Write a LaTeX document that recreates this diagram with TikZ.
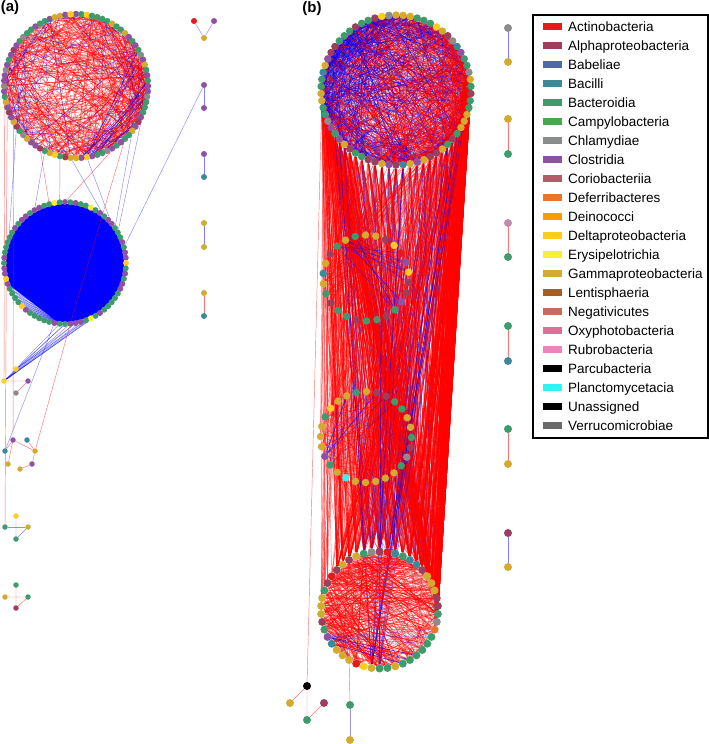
\documentclass[tikz,border=0pt]{standalone}
\usepackage{fontspec}
\setmainfont{Liberation Sans}
\pgfdeclarelayer{bg}
\pgfsetlayers{bg,main}
\definecolor{act}{HTML}{E41A1C}
\definecolor{alp}{HTML}{9B3F5C}
\definecolor{bab}{HTML}{4E6AA8}
\definecolor{bac}{HTML}{3A8A9A}
\definecolor{bct}{HTML}{3E9B6C}
\definecolor{cam}{HTML}{4DA54F}
\definecolor{chl}{HTML}{8A8D8C}
\definecolor{clo}{HTML}{8E52A2}
\definecolor{cor}{HTML}{B8596A}
\definecolor{def}{HTML}{E8752B}
\definecolor{dei}{HTML}{FF9900}
\definecolor{del}{HTML}{FFCC1F}
\definecolor{ery}{HTML}{F7F031}
\definecolor{gam}{HTML}{D4AA2F}
\definecolor{len}{HTML}{A65E22}
\definecolor{ngv}{HTML}{C46E5A}
\definecolor{oxy}{HTML}{DE6F97}
\definecolor{rub}{HTML}{E886BE}
\definecolor{par}{HTML}{000000}
\definecolor{pla}{HTML}{33F2F2}
\definecolor{una}{HTML}{000000}
\definecolor{ver}{HTML}{6B6B6B}
\definecolor{mve}{HTML}{C48AAD}
\tikzset{
  vtx/.style={circle,inner sep=0pt,minimum size=#1,draw=none},
  vtx/.default=7.5pt,
  redge/.style={red,line width=.45pt,opacity=.55},
  bedge/.style={blue,line width=.4pt,opacity=.5},
  tag/.style={font=\bfseries\fontsize{15}{18}\selectfont,inner sep=0pt},
  lgd/.style={font=\fontsize{13.5}{16}\selectfont,anchor=base west,inner sep=0pt},
}
\pgfmathdeclarerandomlist{palA}{{bct}{bct}{bct}{bct}{bct}{bct}{bct}{clo}{clo}{clo}{clo}{clo}{clo}{clo}{gam}{gam}{gam}{alp}{chl}{del}}
\pgfmathdeclarerandomlist{palB}{{bct}{bct}{bct}{bct}{bct}{bct}{bct}{bct}{bct}{clo}{clo}{clo}{clo}{clo}{clo}{clo}{clo}{ery}{del}{gam}}
\pgfmathdeclarerandomlist{palC}{{bct}{bct}{bct}{bct}{bct}{bct}{bct}{gam}{gam}{gam}{gam}{gam}{alp}{alp}{alp}{alp}{clo}{del}{chl}{bac}}
\newcommand\ring[7]{\foreach \cl [count=\i] in {#7}
  \node[vtx=#6,fill=\cl] (#1-\i) at ([shift={({#5+(\i-1)/#4*360}:#3)}]#2) {};}
\newcommand\rring[6]{\foreach \i in {1,...,#4}{\pgfmathrandomitem{\cl}{#6}
  \node[vtx=#5,fill=\cl] (#1-\i) at ([shift={({-90+(\i-1)/#4*360}:#3)}]#2) {};}}
\newcommand\links[8]{\foreach \e in {1,...,#1}{\pgfmathrandominteger{\p}{#4}{#5}\pgfmathrandominteger{\q}{#7}{#8}
  \ifnum\p=\q\else\draw[#2] (#3-\p) -- (#6-\q);\fi}}
\begin{document}
\begin{tikzpicture}[x=1pt,y=-1pt]
\useasboundingbox (0,0) rectangle (709,744);
\pgfmathsetseed{11}
\node[tag] (ta) at (10,8) {(a)};
\node[tag] (tb) at (312,9) {(b)};
\rring{a1}{76,86}{72}{84}{6.5pt}{palA}
\rring{a2}{65,263}{61}{72}{6pt}{palB}
\rring{b1}{396,90}{75}{66}{7.5pt}{palC}
\ring{b2}{366,278}{43}{26}{227.7}{7.5pt}{bct,gam,bct,gam,gam,alp,del,act,clo,del,alp,alp,clo,bct,alp,bct,bct,alp,bct,bct,alp,bct,gam,bac,gam,alp}
\ring{b3}{366,437}{45.5}{28}{232}{7.5pt}{gam,gam,bct,gam,alp,alp,bct,bct,gam,gam,bct,alp,chl,bct,gam,gam,gam,gam,gam,pla,gam,bct,clo,gam,gam,gam,bct,del}
\ring{b4}{379.5,610}{58.5}{46}{90}{8pt}{bct,gam,del,act,gam,gam,gam,bac,clo,bct,alp,gam,gam,gam,bct,alp,act,alp,gam,alp,gam,bct,chl,alp,act,bac,bct,bac,bac,alp,gam,gam,gam,alp,alp,bct,chl,def,bct,bct,bct,bct,bct,bct,gam,bct}
\node[vtx=6pt,fill=act] (s0r) at (194,21) {};
\node[vtx=6pt,fill=clo] (s0p) at (214,21) {};
\node[vtx=6pt,fill=gam] (s0g) at (204,38) {};
\node[vtx=6pt,fill=clo] (s1a) at (204,85) {};
\node[vtx=6pt,fill=clo] (s1b) at (204,108) {};
\node[vtx=6pt,fill=clo] (s2a) at (204,154) {};
\node[vtx=6pt,fill=bac] (s2b) at (204,177) {};
\node[vtx=6pt,fill=gam] (s3a) at (204,223) {};
\node[vtx=6pt,fill=gam] (s3b) at (204,247) {};
\node[vtx=6pt,fill=gam] (s4a) at (204,293) {};
\node[vtx=6pt,fill=bac] (s4b) at (204,316) {};
\node[vtx=5.5pt,fill=del] (y1) at (16,369) {};
\node[vtx=5.5pt,fill=del] (y2) at (4,381) {};
\node[vtx=5.5pt,fill=clo] (p1) at (28,381) {};
\node[vtx=5.5pt,fill=chl] (g1) at (16,393) {};
\node[vtx=5.5pt,fill=clo] (p2) at (13,440) {};
\node[vtx=5.5pt,fill=bac] (t1) at (27,440) {};
\node[vtx=5.5pt,fill=bac] (t2) at (5,451) {};
\node[vtx=5.5pt,fill=gam] (o1) at (35,451) {};
\node[vtx=5.5pt,fill=gam] (o2) at (8,464) {};
\node[vtx=5.5pt,fill=clo] (p3) at (32,464) {};
\node[vtx=5.5pt,fill=gam] (o3) at (20,469) {};
\node[vtx=5.5pt,fill=del] (y3) at (16,516) {};
\node[vtx=5.5pt,fill=bct] (c1) at (5,527) {};
\node[vtx=5.5pt,fill=gam] (o4) at (28,527) {};
\node[vtx=5.5pt,fill=bct] (c2) at (16,539) {};
\node[vtx=5.5pt,fill=bct] (c3) at (16,585) {};
\node[vtx=5.5pt,fill=gam] (o5) at (5,597) {};
\node[vtx=5.5pt,fill=bct] (c4) at (28,597) {};
\node[vtx=5.5pt,fill=alp] (m1) at (16,608) {};
\node[vtx=8pt,fill=par] (pbk) at (307,686) {};
\node[vtx=8pt,fill=gam] (pgo) at (290,703) {};
\node[vtx=8pt,fill=alp] (pma) at (324,703) {};
\node[vtx=8pt,fill=bct] (pgr) at (307,720) {};
\node[vtx=8pt,fill=bct] (qgr) at (350,705) {};
\node[vtx=8pt,fill=gam] (qgo) at (350,740) {};
\node[vtx=8pt,fill=chl] (r1a) at (508,28) {};
\node[vtx=8pt,fill=gam] (r1b) at (508,62) {};
\node[vtx=8pt,fill=gam] (r2a) at (508,119) {};
\node[vtx=8pt,fill=bct] (r2b) at (508,154) {};
\node[vtx=8pt,fill=mve] (r3a) at (508,223) {};
\node[vtx=8pt,fill=bct] (r3b) at (508,257) {};
\node[vtx=8pt,fill=bct] (r4a) at (508,326) {};
\node[vtx=8pt,fill=bac] (r4b) at (508,361) {};
\node[vtx=8pt,fill=bct] (r5a) at (508,429) {};
\node[vtx=8pt,fill=gam] (r5b) at (508,464) {};
\node[vtx=8pt,fill=alp] (r6a) at (508,533) {};
\node[vtx=8pt,fill=gam] (r6b) at (508,567) {};
\begin{pgfonlayer}{bg}
\fill[blue] (65,263) circle[radius=59];
\fill[blue!12] (a2-38.center) \foreach \i in {41,...,51}{ -- (a2-\i.center)} -- cycle;
\foreach \i in {40,...,53} \draw[bedge] (a2-38) -- (a2-\i);
\foreach \i in {44,...,52} \draw[bedge] (a2-36) -- (a2-\i);
\links{340}{redge}{a1}{1}{84}{a1}{1}{84}
\links{110}{redge}{a1}{16}{32}{a1}{1}{84}
\links{45}{bedge}{a1}{1}{84}{a1}{1}{84}
\links{15}{bedge}{a1}{38}{42}{a1}{15}{30}
\draw[redge] (a1-46) -- (a2-72);
\draw[redge] (a1-35) -- (a2-1);
\draw[redge] (a1-50) -- (a2-70);
\draw[redge] (a2-36) -- (a1-33);
\draw[bedge] (a1-49) -- (a2-67);
\draw[bedge] (a1-44) -- (a2-9);
\draw[bedge] (a1-41) -- (a2-11);
\draw[bedge] (a1-27) -- (a2-13);
\draw[bedge] (a1-31) -- (a2-12);
\draw[bedge] (a1-56) -- (a2-52);
\draw[bedge] (s1a) -- (a2-16);
\draw[redge] (a1-62) -- (y2);
\draw[redge] (a1-57) -- (p2);
\draw[redge] (a1-60) -- (c1);
\foreach \i in {30,...,38} \draw[bedge] (a2-\i) -- (y2);
\foreach \i in {33,35,37} \draw[bedge] (a2-\i) -- (y1);
\draw[bedge] (a2-39) -- (t2);
\draw[redge] (a2-36) -- (o1);
\draw[bedge] (s0r) -- (s0g) -- (s0p);
\draw[bedge] (s1a) -- (s1b);
\draw[bedge] (s2a) -- (s2b);
\draw[bedge] (s3a) -- (s3b);
\draw[redge] (s4a) -- (s4b);
\draw[redge] (y2) -- (p1) -- (g1);
\draw[redge] (p2) -- (o1) -- (t1);
\draw[redge] (o1) -- (p3) -- (o3);
\draw[redge] (t2) -- (p2) -- (o2);
\draw[redge] (c1) -- (o4);
\draw[bedge] (y3) -- (c2) -- (o4);
\draw[redge] (o5) -- (c4) -- (m1) -- (c3);
\links{550}{redge}{b1}{1}{66}{b1}{1}{66}
\links{200}{bedge}{b1}{1}{66}{b1}{1}{66}
\links{220}{bedge}{b1}{48}{66}{b1}{1}{66}
\links{220}{redge}{b1}{8}{30}{b1}{1}{66}
\links{160}{bedge}{b1}{26}{44}{b4}{22}{32}
\links{650}{redge}{b1}{18}{50}{b4}{18}{36}
\links{420}{redge}{b1}{14}{26}{b4}{28}{38}
\links{40}{redge}{b1}{40}{50}{b4}{12}{22}
\links{40}{bedge}{b1}{22}{44}{b4}{1}{2}
\links{60}{redge}{b1}{17}{51}{b2}{1}{26}
\links{60}{redge}{b1}{17}{51}{b3}{1}{28}
\links{30}{redge}{b2}{1}{26}{b4}{16}{36}
\links{30}{redge}{b3}{1}{28}{b4}{16}{36}
\links{30}{redge}{b2}{19}{26}{b2}{5}{15}
\links{12}{bedge}{b2}{1}{3}{b2}{8}{14}
\links{30}{redge}{b3}{21}{28}{b3}{5}{16}
\links{10}{bedge}{b3}{22}{23}{b3}{1}{8}
\links{250}{redge}{b4}{8}{22}{b4}{26}{46}
\links{60}{redge}{b4}{8}{22}{b4}{1}{6}
\links{80}{redge}{b4}{24}{46}{b4}{1}{46}
\links{10}{bedge}{b4}{8}{9}{b4}{38}{44}
\draw[redge] (b1-49) -- (pbk);
\draw[redge] (b1-48) -- (b4-13);
\draw[redge] (b1-47) -- (b4-15);
\draw[redge] (b1-46) -- (b3-25);
\draw[redge] (b1-48) -- (b3-27);
\draw[redge] (b1-50) -- (b2-22);
\draw[redge] (b1-45) -- (b4-19);
\draw[redge] (b1-44) -- (b2-20);
\draw[redge] (b4-5) -- (qgr);
\draw[redge] (pgo) -- (pbk) -- (pgr) -- (pma);
\draw[bedge,draw=blue!50!clo] (qgr) -- (qgo);
\draw[bedge] (r1a) -- (r1b);
\draw[redge] (r2a) -- (r2b);
\draw[redge] (r3a) -- (r3b);
\draw[redge] (r4a) -- (r4b);
\draw[redge] (r5a) -- (r5b);
\draw[bedge] (r6a) -- (r6b);
\end{pgfonlayer}
\draw[line width=1.3pt] (533,15) rectangle (708,438);
\foreach \cl/\nm [count=\i] in {act/Actinobacteria,alp/Alphaproteobacteria,bab/Babeliae,bac/Bacilli,bct/Bacteroidia,cam/Campylobacteria,chl/Chlamydiae,clo/Clostridia,cor/Coriobacteriia,def/Deferribacteres,dei/Deinococci,del/Deltaproteobacteria,ery/Erysipelotrichia,gam/Gammaproteobacteria,len/Lentisphaeria,ngv/Negativicutes,oxy/Oxyphotobacteria,rub/Rubrobacteria,par/Parcubacteria,pla/Planctomycetacia,una/Unassigned,ver/Verrucomicrobiae}{
  \node[fill=\cl,minimum width=19pt,minimum height=7pt,inner sep=0pt] (k\i) at (552.5,{26.7+19*(\i-1)}) {};
  \node[lgd] (n\i) at (568,{31.5+19*(\i-1)}) {\nm};}
\end{tikzpicture}
\end{document}
